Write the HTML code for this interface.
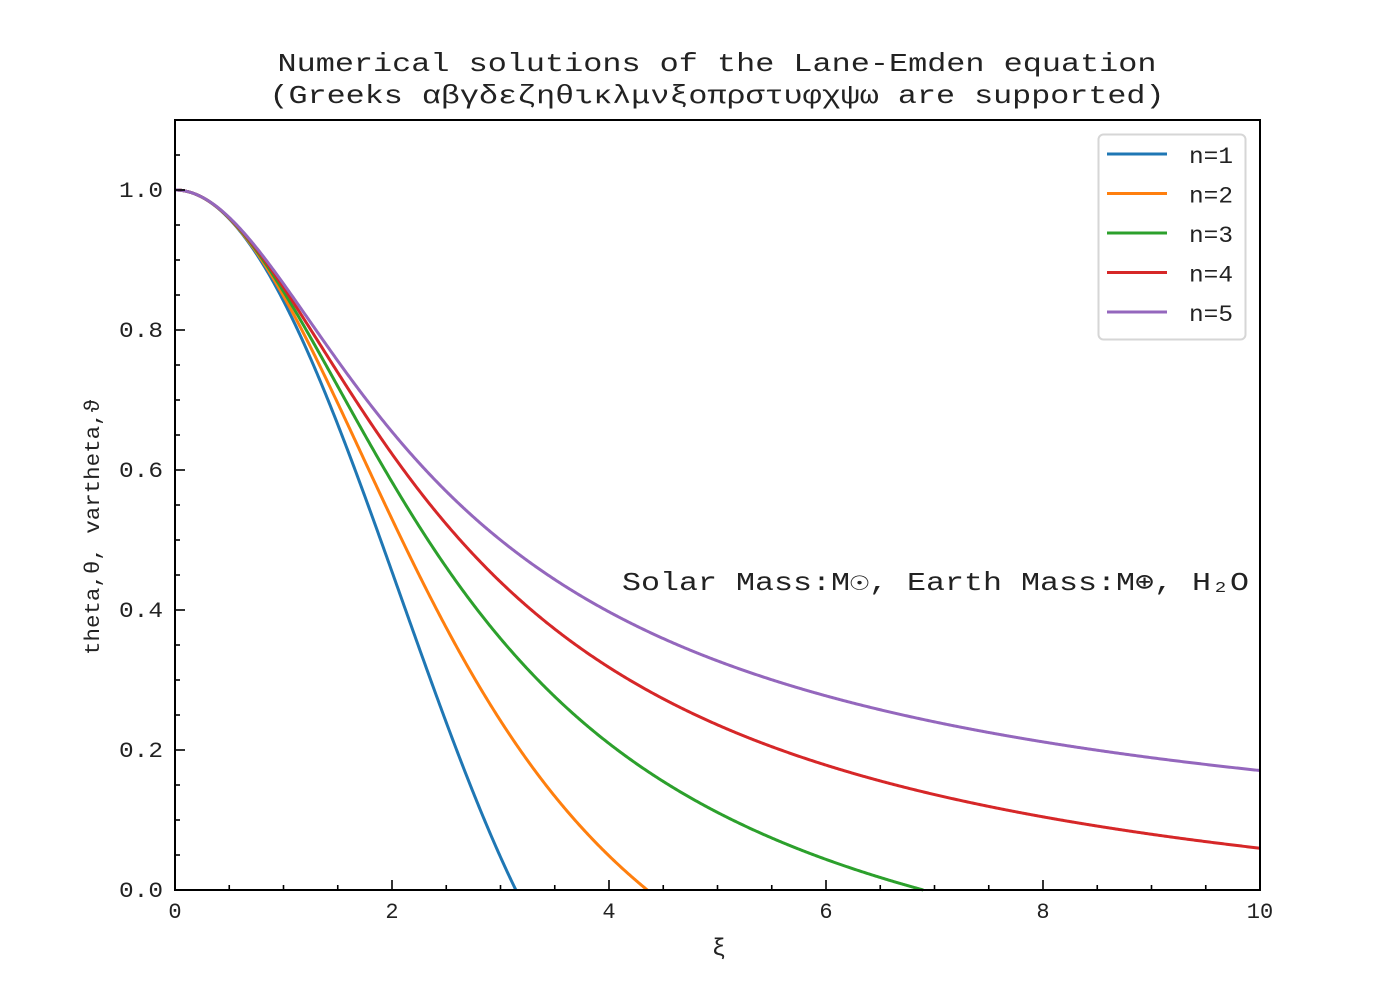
<!DOCTYPE html>
<html><head><meta charset="utf-8"><style>
html,body{margin:0;padding:0;background:#fff;}
svg text{font-family:"Liberation Mono","DejaVu Sans Mono",monospace;fill:#222;}
</style></head><body>
<svg id="s" width="1400" height="1000" xmlns="http://www.w3.org/2000/svg">
<rect width="1400" height="1000" fill="#fff"/>
<text x="717" y="71" font-size="26" text-anchor="middle" textLength="879" lengthAdjust="spacingAndGlyphs">Numerical solutions of the Lane-Emden equation</text>
<text x="717" y="103" font-size="26" text-anchor="middle" textLength="895" lengthAdjust="spacingAndGlyphs">(Greeks αβγδεζηθικλμνξοπρστυφχψω are supported)</text>
<g id="curves"></g>
<g id="ticks" stroke="#000" stroke-width="1.6"></g>
<rect x="175" y="120" width="1085" height="770" fill="none" stroke="#000" stroke-width="2"/>
<g font-size="22" id="labels"></g>
<text x="719" y="955" font-size="24" text-anchor="middle">ξ</text>
<text transform="translate(99,527) rotate(-90)" font-size="21" text-anchor="middle" textLength="256" lengthAdjust="spacingAndGlyphs">theta,θ, vartheta,ϑ</text>
<text x="622" y="590" font-size="26" textLength="627" lengthAdjust="spacingAndGlyphs">Solar Mass:M☉, Earth Mass:M⊕, H₂O</text>
<rect x="1098.5" y="134.5" width="147" height="205" rx="5" fill="#fff" fill-opacity="0.8" stroke="#d6d6d6" stroke-width="2"/>
<g id="leg"></g>
</svg>
<script>
var cols=["#1f77b4","#ff7f0e","#2ca02c","#d62728","#9467bd"];
var X=function(x){return 175+x*108.5;}, Y=function(y){return 890-y*700;};
var ns="http://www.w3.org/2000/svg";
function el(p,t,a){var e=document.createElementNS(ns,t);for(var k in a)e.setAttribute(k,a[k]);p.appendChild(e);return e;}
var cg=document.getElementById("curves");
for(var n=1;n<=5;n++){
  var h=0.001,x=1e-6,th=1,dth=0,d="M"+X(0).toFixed(2)+","+Y(1).toFixed(2);
  var f=function(x,t,dt){return -Math.pow(Math.max(t,0),n)-2*dt/x;};
  var step=0;
  while(x<10){
    var k1t=dth,k1d=f(x,th,dth);
    var k2t=dth+h/2*k1d,k2d=f(x+h/2,th+h/2*k1t,dth+h/2*k1d);
    var k3t=dth+h/2*k2d,k3d=f(x+h/2,th+h/2*k2t,dth+h/2*k2d);
    var k4t=dth+h*k3d,k4d=f(x+h,th+h*k3t,dth+h*k3d);
    var nth=th+h/6*(k1t+2*k2t+2*k3t+k4t),nd=dth+h/6*(k1d+2*k2d+2*k3d+k4d);
    if(nth<0){var xz=x+h*th/(th-nth);d+=" L"+X(xz).toFixed(2)+","+Y(0).toFixed(2);break;}
    x+=h;th=nth;dth=nd;step++;
    if(step%10==0)d+=" L"+X(x).toFixed(2)+","+Y(th).toFixed(2);
  }
  el(cg,"path",{d:d,fill:"none",stroke:cols[n-1],"stroke-width":3});
}
var tg=document.getElementById("ticks"),lg=document.getElementById("labels");
for(var i=0;i<=20;i++){var xx=X(i*0.5),L=i%4==0?10:5;el(tg,"line",{x1:xx,x2:xx,y1:890,y2:890-L});}
for(var i=0;i<=22;i++){var yy=Y(i*0.05),L=i%4==0?10:5;el(tg,"line",{x1:175,x2:175+L,y1:yy,y2:yy});}
for(var i=0;i<=10;i+=2){var t=el(lg,"text",{x:X(i),y:918,"text-anchor":"middle"});t.textContent=i;}
for(var i=0;i<=5;i++){var t=el(lg,"text",{x:163,y:Y(i*0.2)+7,"text-anchor":"end",textLength:44,lengthAdjust:"spacingAndGlyphs"});t.textContent=(i*0.2).toFixed(1);}
var le=document.getElementById("leg");
for(var i=0;i<5;i++){var y=154+i*39.5;el(le,"line",{x1:1107,x2:1167,y1:y,y2:y,stroke:cols[i],"stroke-width":3});
var t=el(le,"text",{x:1189,y:y+9,"font-size":23,textLength:44,lengthAdjust:"spacingAndGlyphs"});t.textContent="n="+(i+1);}
</script>
</body></html>
